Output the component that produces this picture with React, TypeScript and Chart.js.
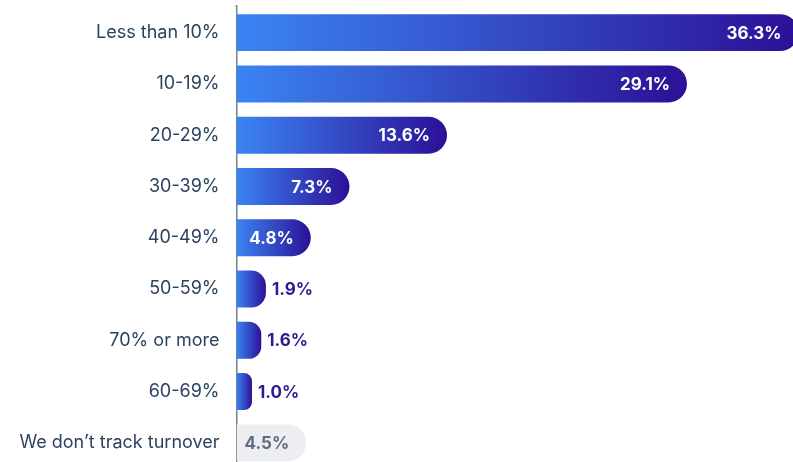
import React, { useEffect, useRef } from "react";
import { Chart, registerables } from "chart.js";

Chart.register(...registerables);

const categories: string[] = [
  "Less than 10%",
  "10-19%",
  "20-29%",
  "30-39%",
  "40-49%",
  "50-59%",
  "70% or more",
  "60-69%",
  "We don’t track turnover",
];
const values: number[] = [36.3, 29.1, 13.6, 7.3, 4.8, 1.9, 1.6, 1.0, 4.5];
const neutralIndex = 8;

const GRAD_START = "#3b84f3";
const GRAD_END = "#2c1096";
const NEUTRAL_BAR = "#eceef1";
const NEUTRAL_TEXT = "#5d6c7e";
const OUTSIDE_TEXT = "#2f1a94";
const AXIS_TEXT = "#2c4360";
const FONT = "Inter, 'Noto Sans', sans-serif";

const valueLabels = {
  id: "valueLabels",
  afterDatasetsDraw(chart: any) {
    const ctx = chart.ctx;
    const meta = chart.getDatasetMeta(0);
    ctx.save();
    ctx.font = `bold 17px ${FONT}`;
    ctx.textBaseline = "middle";
    meta.data.forEach((bar: any, i: number) => {
      const v = values[i];
      const text = v.toFixed(1) + "%";
      const w = ctx.measureText(text).width;
      const len = bar.x - bar.base;
      if (len >= w + 22) {
        ctx.textAlign = "right";
        ctx.fillStyle = i === neutralIndex ? NEUTRAL_TEXT : "#ffffff";
        ctx.fillText(text, bar.x - 17, bar.y + 1);
      } else {
        ctx.textAlign = "left";
        ctx.fillStyle = OUTSIDE_TEXT;
        ctx.fillText(text, bar.x + 6, bar.y + 1);
      }
    });
    ctx.restore();
  },
};

const axisTopExtension = {
  id: "axisTopExtension",
  afterDraw(chart: any) {
    const ctx = chart.ctx;
    const a = chart.chartArea;
    ctx.save();
    ctx.strokeStyle = "#6f8292";
    ctx.lineWidth = 1.5;
    ctx.beginPath();
    ctx.moveTo(a.left, a.top - 2);
    ctx.lineTo(a.left, a.top);
    ctx.stroke();
    ctx.restore();
  },
};

export default function App() {
  const ref = useRef<HTMLCanvasElement | null>(null);
  useEffect(() => {
    if (!ref.current) return;
    const chart = new Chart(ref.current, {
      type: "bar",
      data: {
        labels: categories,
        datasets: [
          {
            data: values,
            backgroundColor: (c: any) => {
              if (c.dataIndex === neutralIndex) return NEUTRAL_BAR;
              const ch = c.chart;
              const xs = ch.scales && ch.scales.x;
              if (!xs || c.type !== "data" || !ch.chartArea) return GRAD_START;
              const x0 = xs.getPixelForValue(0);
              const x1 = xs.getPixelForValue(values[c.dataIndex]);
              if (!isFinite(x0) || !isFinite(x1) || x1 <= x0) return GRAD_START;
              const g = ch.ctx.createLinearGradient(x0, 0, x1, 0);
              g.addColorStop(0, GRAD_START);
              g.addColorStop(1, GRAD_END);
              return g;
            },
            borderWidth: 0,
            borderSkipped: "start",
            borderRadius: { topLeft: 0, bottomLeft: 0, topRight: 19, bottomRight: 19 },
            barPercentage: 0.72,
            categoryPercentage: 1,
          },
        ],
      },
      options: {
        indexAxis: "y",
        responsive: false,
        animation: false,
        devicePixelRatio: 1,
        layout: { padding: { top: 7, bottom: 1.5, left: 0, right: 0 } },
        plugins: {
          legend: { display: false },
          tooltip: { enabled: false },
        },
        scales: {
          x: {
            display: false,
            min: 0,
            max: 36.4,
          },
          y: {
            afterFit: (s: any) => {
              s.width = 236.5;
              s.paddingTop = 0;
              s.paddingBottom = 0;
            },
            grid: { display: false, drawTicks: false },
            border: { display: true, color: "#6f8292", width: 1.5 },
            ticks: {
              padding: 17,
              color: AXIS_TEXT,
              font: { family: FONT, size: 18 },
            },
          },
        },
      },
      plugins: [valueLabels, axisTopExtension],
    });
    return () => chart.destroy();
  }, []);
  return (
    <div
      style={{
        position: "fixed",
        left: 0,
        top: 0,
        width: 793,
        height: 462,
        overflow: "hidden",
        background: "#ffffff",
      }}
    >
      <canvas ref={ref} width={800} height={470} />
    </div>
  );
}
